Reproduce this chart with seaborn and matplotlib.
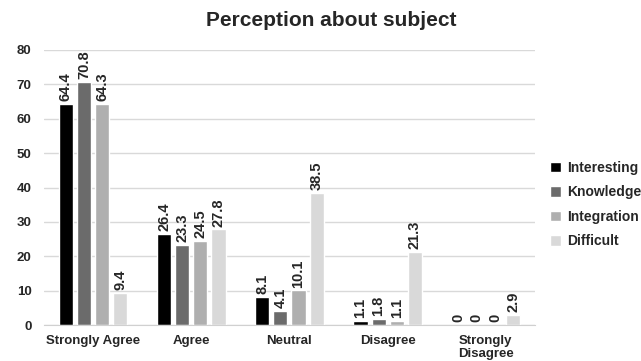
import numpy as np
import pandas as pd
import matplotlib
matplotlib.use("Agg")
import matplotlib.pyplot as plt
import seaborn as sns

categories = ["Strongly Agree", "Agree", "Neutral", "Disagree", "Strongly\nDisagree"]
interesting = [64.4, 26.4, 8.1, 1.1, 0]
knowledge = [70.8, 23.3, 4.1, 1.8, 0]
integration = [64.3, 24.5, 10.1, 1.1, 0]
difficult = [9.4, 27.8, 38.5, 21.3, 2.9]
series_names = ["Interesting", "Knowledge", "Integration", "Difficult"]
series_colors = ["#000000", "#6b6b6b", "#afafaf", "#d9d9d9"]

df = pd.DataFrame({"Response": categories,
                   "Interesting": interesting,
                   "Knowledge": knowledge,
                   "Integration": integration,
                   "Difficult": difficult})
long = df.melt(id_vars="Response", var_name="Series", value_name="Percent")

sns.set_style("white")
plt.rcParams["font.family"] = ["Liberation Sans", "DejaVu Sans"]

fig = plt.figure(figsize=(6.41, 3.61), dpi=100)
ax = fig.add_axes([0.0686, 0.0997, 0.766, 0.7618])

sns.barplot(data=long, x="Response", y="Percent", hue="Series",
            hue_order=series_names, order=categories,
            palette=series_colors, width=0.74, gap=0.22,
            saturation=1, ax=ax, legend=True)

ax.set_ylim(0, 80)
ax.set_yticks(np.arange(0, 81, 10))
ax.yaxis.grid(True, color="#d9d9d9", linewidth=1)
ax.set_axisbelow(True)
for s in ["top", "right", "left"]:
    ax.spines[s].set_visible(False)
ax.spines["bottom"].set_color("#d0d0d0")
ax.set_xlabel("")
ax.set_ylabel("")
ax.tick_params(axis="y", length=0, labelsize=9.5, pad=9)
ax.tick_params(axis="x", length=0, labelsize=9.5, pad=7.5)
for lab in ax.get_xticklabels() + ax.get_yticklabels():
    lab.set_fontweight("bold")
for lab in ax.get_xticklabels():
    lab.set_linespacing(1.1)

for cont in ax.containers:
    labels = [f"{v:g}" for v in cont.datavalues]
    ax.bar_label(cont, labels=labels, rotation=90, padding=2,
                 fontsize=10.5, fontweight="bold")

leg = ax.legend(loc="center left", bbox_to_anchor=(1.03, 0.438), frameon=False,
                prop={"weight": "bold", "size": 10}, handlelength=0.8,
                handleheight=0.8, handletextpad=0.45, labelspacing=0.75,
                borderaxespad=0, borderpad=0)

fig.text(0.516, 0.943, "Perception about subject", ha="center", va="center",
         fontsize=15, fontweight="bold")

fig.savefig("out.png", dpi=100)
